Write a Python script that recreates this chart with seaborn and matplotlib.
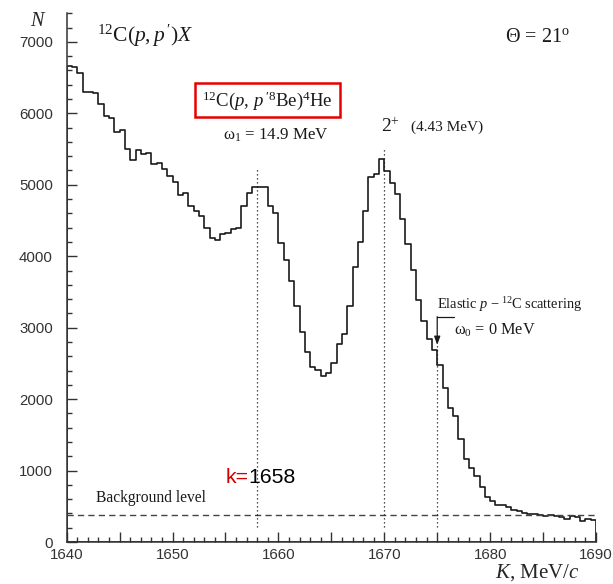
import numpy as np
import pandas as pd
import matplotlib
matplotlib.use("Agg")
import matplotlib.pyplot as plt
import seaborn as sns
from matplotlib.patches import Rectangle
from matplotlib.ticker import MultipleLocator, FuncFormatter

# Momentum spectrum of scattered protons, 12C(p,p')X at 21 degrees
k_start, k_stop, bin_width = 1640.0, 1690.0, 0.5
counts = [
    6669, 6655, 6570, 6295, 6295, 6281, 6127, 5964, 5931, 5745,
    5768, 5507, 5348, 5484, 5437, 5451, 5287, 5311, 5218, 5124,
    5040, 4858, 4890, 4700, 4638, 4568, 4400, 4251, 4228, 4307,
    4321, 4377, 4391, 4704, 4890, 4974, 4965, 4974, 4704, 4601,
    4185, 3952, 3658, 3310, 2936, 2658, 2452, 2408, 2320, 2361,
    2501, 2777, 2912, 3309, 3845, 4195, 4638, 5105, 5147, 5357,
    5198, 5031, 4865, 4527, 4175, 3805, 3390, 3099, 2838, 2690,
    2478, 2150, 1880, 1760, 1440, 1160, 1040, 924, 770, 625,
    580, 513, 513, 485, 443, 434, 411, 397, 392, 378,
    364, 378, 364, 345, 327, 369, 345, 294, 327, 308,
]
y_max = 7400
background_level = 380

# marked momenta
k_omega1 = 1658      # omega_1 = 14.9 MeV
k_two_plus = 1670    # 2+ (4.43 MeV)
k_elastic = 1675     # elastic, omega_0 = 0
marker_tops = [5230, 5515, 2760]
marker_bottom = 210

edges = np.arange(k_start, k_stop + bin_width / 2, bin_width)
centers = edges[:-1] + bin_width / 2
df = pd.DataFrame({"K": centers, "N": counts})

sns.set_style("ticks")
plt.rcParams["font.family"] = ["Liberation Serif", "DejaVu Serif"]
plt.rcParams["mathtext.fontset"] = "custom"
plt.rcParams["mathtext.rm"] = "Liberation Serif"
plt.rcParams["mathtext.it"] = "Liberation Serif:italic"
plt.rcParams["mathtext.bf"] = "Liberation Serif:bold"

ink = "#1a1a1a"
axis_col = "#333333"

fig = plt.figure(figsize=(6.13, 5.84), dpi=100)
ax = fig.add_axes([0.1088, 0.0719, 0.8635, 0.9053])

sns.histplot(data=df, x="K", weights="N", binwidth=bin_width,
             binrange=(k_start, k_stop), element="step",
             fill=True, color=ink, linewidth=1.2, ax=ax)
# keep only the outline of the step histogram
for coll in ax.collections:
    coll.set_alpha(1)
    coll.set_facecolor("none")
    coll.set_edgecolor(ink)
    coll.set_linewidth(1.2)

ax.set_xlim(k_start, k_stop)
ax.set_ylim(0, y_max)
for side in ("top", "right"):
    ax.spines[side].set_visible(False)
for side in ("left", "bottom"):
    ax.spines[side].set_color(axis_col)
    ax.spines[side].set_linewidth(1.1)

ax.xaxis.set_major_locator(MultipleLocator(5))
ax.xaxis.set_minor_locator(MultipleLocator(1))
ax.xaxis.set_major_formatter(FuncFormatter(lambda v, p: f"{v:.0f}" if round(v) % 10 == 0 else ""))
ax.yaxis.set_major_locator(MultipleLocator(1000))
ax.yaxis.set_minor_locator(MultipleLocator(200))
ax.tick_params(which="both", direction="in", color=axis_col, width=1.0,
               labelcolor="#333333")
ax.tick_params(which="major", length=7.5)
ax.tick_params(which="minor", length=3.8)
ax.tick_params(axis="x", pad=4)
ax.tick_params(axis="y", pad=10)
for lab in ax.get_xticklabels() + ax.get_yticklabels():
    lab.set_fontfamily("Liberation Sans")
    lab.set_fontsize(10.8)

ax.set_xlabel(r"$K$, MeV/$c$", fontsize=15, ha="center", va="center")
ax.xaxis.set_label_coords(0.8885, -0.058)
ax.set_ylabel(r"$N$", fontsize=14.5, rotation=0, ha="center", va="center")
ax.yaxis.set_label_coords(-0.054, 0.985)

# background level and marker lines
ax.axhline(background_level, color="#444444", lw=1.0, ls=(0, (4.5, 3)))
ax.vlines([k_omega1, k_two_plus, k_elastic], marker_bottom, marker_tops,
          colors=ink, lw=0.9, linestyles=(0, (1, 2.2)))

# annotations
ax.text(1642.86, 7000, r"$^{12}\mathrm{C}(p,p\,^{\prime})X$", fontsize=15.5,
        ha="left", va="baseline", color=ink)
ax.text(1681.43, 7004, r"$\Theta\,=\,21^{\mathrm{o}}$", fontsize=14.5,
        ha="left", va="baseline", color=ink)

ax.add_patch(Rectangle((1652.13, 5950), 13.65, 476, fill=False,
                       edgecolor="#e60000", lw=1.8, zorder=5))
ax.text(1658.96, 6170, r"$^{12}\mathrm{C}(p,\,p\,^{\prime 8}\mathrm{Be})^4\mathrm{He}$",
        fontsize=13.5, ha="center", va="center", color=ink)

ax.text(1659.74, 5628, r"$\mathrm{\omega_1}$ = 14.9 MeV", fontsize=12.2,
        ha="center", va="baseline", color=ink)
ax.text(1669.65, 5740, r"$2^{+}$", fontsize=14, ha="left", va="baseline", color=ink)
ax.text(1672.55, 5754, "(4.43 MeV)", fontsize=11, ha="left", va="baseline", color=ink)

ax.text(1674.97, 3258, r"Elastic $p\,-^{12}\mathrm{C}$ scattering", fontsize=10.4,
        ha="left", va="baseline", color=ink)
ax.plot([k_elastic, 1676.55], [3154, 3154], color=ink, lw=0.9)
ax.annotate("", xy=(k_elastic, 2758), xytext=(k_elastic, 3154),
            arrowprops=dict(arrowstyle="-|>,head_length=0.5,head_width=0.18",
                            color=ink, lw=0.9, shrinkA=0, shrinkB=0))
ax.text(1676.54, 2898, r"$\mathrm{\omega_0}$ = 0 MeV", fontsize=11.7,
        ha="left", va="baseline", color=ink)

# "k=" in red followed by the value in black
t_k = ax.text(1654.97, 830, "k=", fontsize=15.3, family="Liberation Sans",
              color="#d40000", ha="left", va="baseline")
fig.canvas.draw()
bb = t_k.get_window_extent()
x_next = ax.transData.inverted().transform((bb.x1, bb.y0))[0]
ax.text(x_next, 830, f"{k_omega1}", fontsize=15.3, family="Liberation Sans",
        color="black", ha="left", va="baseline")

ax.text(1642.77, 564, "Background level", fontsize=11.2, ha="left",
        va="baseline", color=ink)

fig.savefig("out.png", dpi=100)
